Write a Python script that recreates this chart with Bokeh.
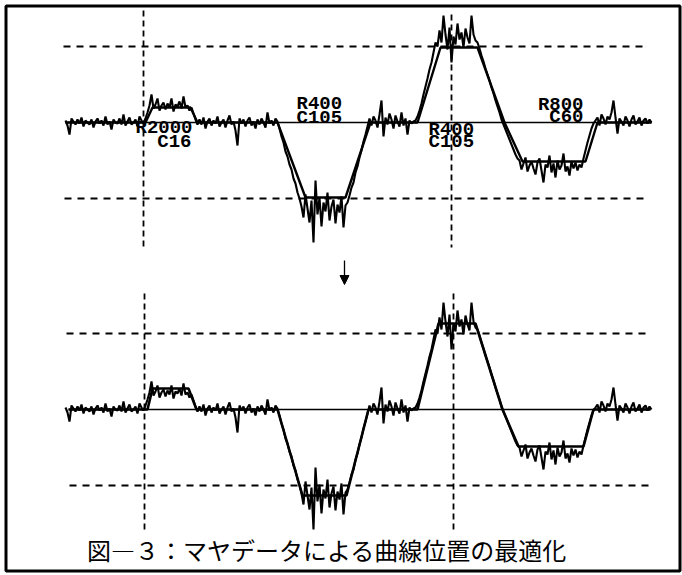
from bokeh.plotting import figure
from bokeh.models import Range1d, Arrow, NormalHead
from bokeh.core.properties import value
from bokeh.embed import file_html
from bokeh.resources import INLINE

# ---- data (distance along the track, measured value; dashed limit = +-76) ----
DIST = list(range(0, 588, 2))
MEASURED = [
    2, -3, -12, 4, 1, -2, 3, -1, 5, -4, 2, 0, -2, 3, -5, 1, 4, -1, 2, -3,
    6, -2, 1, -7, 3, 0, -1, 4, -2, 8, -3, 1, 5, -2, 0, 3, -4, 6, 2, -1,
    4, 10, 17, 28, 14, 18, 24, 12, 17, 20, 13, 19, 15, 24, 11, 18, 16, 21, 14, 26,
    15, 17, 12,
    15, 9, 3, -2,
    3, -2, 5, -6, 1, 4, -3, 2, -1, 6, -4, 0, 3, -5, 2, 7, -2, 1, -8, -23,
    4, -1, 3, -4, 2, 5, -3, 1, -6, 3, -2, 4, 0, -5, 10, -1, 2, -3, 4, 1,
    -6, -14, -20, -29, -34, -42, -47, -56, -61, -70,
    -76, -84, -95, -72, -86, -100, -78, -120, -58, -92, -75, -104, -80, -89, -70,
    -98, -84, -77, -101, -82, -90, -74, -105, -83,
    -80, -73, -65, -60, -50, -44, -35, -28, -19, -12, -4,
    4, -3, 6, 2, -5, 8, 22, -14, 5, -2, 9, 3, -6, 7, 1, -4, 10, -3, 4, -12, 2, -1,
    1, 2, 6, 12, 19, 28, 36, 44, 53, 60, 70,
    80, 76, 92, 80, 107, 88, 73, 95, 60, 86, 78, 99, 83, 90, 75, 94, 85, 79, 107, 88, 82,
    80, 74, 67, 61, 54, 48, 42, 35, 29, 22, 16, 10,
    3, -2, -7, -12, -17, -22, -27, -32,
    -36, -38, -47, -41, -35, -49, -43, -39, -46, -52, -40, -36, -48, -60, -42, -45,
    -33, -50, -41, -55, -38, -47, -43, -31, -49, -44, -53, -39, -46, -40, -48, -42, -45,
    -36, -28, -20, -13, -6, -1,
    2, 5, -3, 8, 4, -2, 6, 3, 10, 22, 5, -11, 4, 1, -3, 6, 2, -4, 3, 7,
    -2, 1, 5, -3, 2, 4, -1, 3, 0,
]

INITIAL_D = [0, 80, 87, 125, 132, 212, 240, 280, 305, 352, 375, 412, 439, 457, 520, 532, 586]
INITIAL_V = [0, 0, 15, 15, 0, 0, -75, -75, 0, 0, 75, 75, 0, -39, -39, 0, 0]

OPTIMIZED_D = [3, 82, 87, 123, 131, 212, 237, 281, 303, 352, 373, 410, 437, 453, 518, 528, 585]
OPTIMIZED_V = [0, 0, 21, 21, 0, 0, -86, -86, 0, 0, 86, 86, 0, -37, -37, 0, 0]

LIMIT = 76
CURVE_LABELS = ["R2000", "C16", "R400", "C105", "R400", "C105", "R800", "C60"]
TITLE = "図―３：マヤデータによる曲線位置の最適化"

# ---- figure ----
p = figure(width=682, height=575, x_range=Range1d(-65, 617), y_range=Range1d(575, 0),
           x_axis_type=None, y_axis_type=None, output_backend="svg",
           toolbar_location=None, min_border=0)
p.grid.visible = False
p.outline_line_color = None
p.background_fill_color = "white"
p.extra_y_ranges = {"top": Range1d(-453, 122), "bot": Range1d(-166, 409)}

# outer frame
p.quad(left=[-59.5], right=[614.5], top=[5.5], bottom=[570.5],
       fill_color=None, line_color="black", line_width=3)

DASH_H = "7 6"
DASH_V = "6 4"

# top panel
p.line([-2, 583], [LIMIT, LIMIT], y_range_name="top", line_color="black", line_width=1.8, line_dash=DASH_H)
p.line([-1, 583], [-LIMIT, -LIMIT], y_range_name="top", line_color="black", line_width=1.8, line_dash=DASH_H)
p.line([78, 78], [112, -128], y_range_name="top", line_color="black", line_width=1.8, line_dash=DASH_V)
p.line([386, 386], [108, -125], y_range_name="top", line_color="black", line_width=1.8, line_dash=DASH_V)
p.line([0, 586], [0, 0], y_range_name="top", line_color="black", line_width=1.5)
p.line(DIST, MEASURED, y_range_name="top", line_color="black", line_width=2.1)
p.line(INITIAL_D, INITIAL_V, y_range_name="top", line_color="black", line_width=2.4)

# bottom panel
p.line([1, 583], [LIMIT, LIMIT], y_range_name="bot", line_color="black", line_width=1.8, line_dash=DASH_H)
p.line([4, 583], [-LIMIT, -LIMIT], y_range_name="bot", line_color="black", line_width=1.8, line_dash=DASH_H)
p.line([79, 79], [116, -121], y_range_name="bot", line_color="black", line_width=1.8, line_dash=DASH_V)
p.line([388, 388], [116, -121], y_range_name="bot", line_color="black", line_width=1.8, line_dash=DASH_V)
p.line([3, 585], [0, 0], y_range_name="bot", line_color="black", line_width=1.5)
p.line(DIST, MEASURED, y_range_name="bot", line_color="black", line_width=2.1)
p.line(OPTIMIZED_D, OPTIMIZED_V, y_range_name="bot", line_color="black", line_width=2.6)

# curve labels (top panel)
lab_font = value("Liberation Mono")
lab_kw = dict(y_range_name="top", text_font=lab_font, text_font_style="bold",
              text_font_size="19px", text_baseline="middle", text_color="black")
p.text(x=[127, 126], y=[-5.5, -19], text=CURVE_LABELS[0:2], text_align="right", **lab_kw)
p.text(x=[231, 231], y=[19, 5], text=CURVE_LABELS[2:4], text_align="left", **lab_kw)
p.text(x=[363, 363], y=[-7, -19], text=CURVE_LABELS[4:6], text_align="left", **lab_kw)
p.text(x=[518, 518], y=[18, 6], text=CURVE_LABELS[6:8], text_align="right", **lab_kw)

# arrow between panels
p.add_layout(Arrow(end=NormalHead(size=9, fill_color="black", line_color="black"),
                   x_start=279, y_start=260, x_end=279, y_end=284,
                   line_color="black", line_width=1.3))

# caption
p.text(x=[261.5], y=[549], text=[TITLE], text_font=value("Noto Sans CJK JP"),
       text_font_size="24px", text_align="center", text_baseline="middle", text_color="black")

open("out.html", "w").write(file_html(p, INLINE))
